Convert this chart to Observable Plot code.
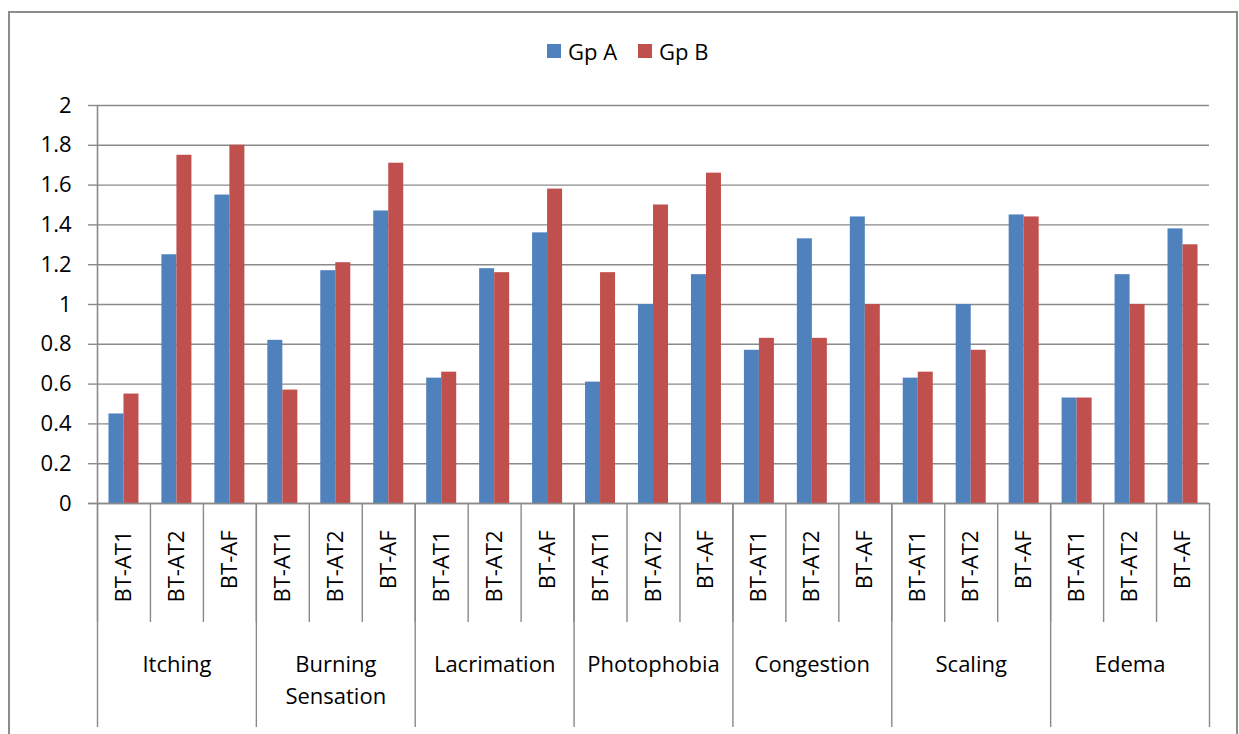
<!DOCTYPE html>
<html>
<head>
<meta charset="utf-8">
<script src="https://cdn.jsdelivr.net/npm/d3@7"></script>
<script src="https://cdn.jsdelivr.net/npm/@observablehq/plot@0.6"></script>
<style>
  body { margin: 0; background: #fff; font-family: "Open Sans", sans-serif; }
  #wrap { position: relative; width: 1239px; height: 734px; overflow: hidden; background: #fff; }
  #border { position: absolute; left: 8px; top: 11px; width: 1230px; height: 780px; border: 2px solid #8c8c8c; box-sizing: border-box; }
  #legend { position: absolute; top: 37px; left: 547px; display: flex; align-items: center; font-size: 22px; color: #000; line-height: 28px; }
  #legend .sw { width: 14px; height: 14px; display: inline-block; margin-right: 7px; }
  #legend .item { display: flex; align-items: center; margin-right: 21px; }
  #chart { position: absolute; left: 0; top: 0; }
</style>
</head>
<body>
<div id="wrap">
  <div id="border"></div>
  <div id="chart"></div>
  <div id="legend"></div>
</div>
<script>
// ---- data ----
const groups = ["Itching", "Burning\nSensation", "Lacrimation", "Photophobia", "Congestion", "Scaling", "Edema"];
const subs = ["BT-AT1", "BT-AT2", "BT-AF"];
const seriesNames = ["Gp A", "Gp B"];
const seriesColors = ["#4F81BD", "#C0504D"];
const gpA = [0.45, 1.25, 1.55,  0.82, 1.17, 1.47,  0.63, 1.18, 1.36,  0.61, 1.00, 1.15,  0.77, 1.33, 1.44,  0.63, 1.00, 1.45,  0.53, 1.15, 1.38];
const gpB = [0.55, 1.75, 1.80,  0.57, 1.21, 1.71,  0.66, 1.16, 1.58,  1.16, 1.50, 1.66,  0.83, 0.83, 1.00,  0.66, 0.77, 1.44,  0.53, 1.00, 1.30];
const yTicks = [0, 0.2, 0.4, 0.6, 0.8, 1, 1.2, 1.4, 1.6, 1.8, 2];

// ---- derived table ----
const rows = [];
groups.forEach((g, gi) => subs.forEach((s, si) => {
  const i = gi * subs.length + si;
  rows.push({key: g + "|" + s, group: g, sub: s, si, a: gpA[i], b: gpB[i]});
}));
const keys = rows.map(d => d.key);
const groupRows = groups.map(g => ({name: g, key: g + "|" + subs[1]}));
const groupStarts = rows.filter(d => d.si === 0).map(d => d.key);
const lastKey = keys[keys.length - 1];

// ---- layout ----
const W = 1239, H = 734;
const mL = 97, mR = 30, mT = 105, baseY = 503, mB = H - baseY;
const bw = (W - mL - mR) / keys.length;
const barW = 15;
const grid = "#8a8a8a";
const font = "'Open Sans', sans-serif";

const plot = Plot.plot({
  width: W, height: H,
  marginLeft: mL, marginRight: mR, marginTop: mT, marginBottom: mB,
  style: {fontFamily: font, fontSize: "22px", color: "#000", background: "transparent", overflow: "visible"},
  x: {domain: keys, padding: 0, round: false, axis: null},
  y: {domain: [0, 2], axis: null},
  marks: [
    Plot.gridY(yTicks, {stroke: grid, strokeOpacity: 1, strokeWidth: 1.4}),
    Plot.axisY({ticks: yTicks, tickSize: 9, tickPadding: 17, stroke: grid, strokeWidth: 1.4, fill: "#000",
      tickFormat: d => String(+d.toFixed(1)), fontSize: 22}),
    Plot.barY(rows, {x: "key", y: "a", fill: seriesColors[0], insetLeft: bw / 2 - barW, insetRight: bw / 2}),
    Plot.barY(rows, {x: "key", y: "b", fill: seriesColors[1], insetLeft: bw / 2, insetRight: bw / 2 - barW}),
    // axis lines
    Plot.ruleX([keys[0]], {dx: -bw / 2, stroke: grid, strokeWidth: 1.6}),
    Plot.ruleY([0], {stroke: grid, strokeWidth: 1.6, insetLeft: -9}),
    // category separators (short)
    Plot.ruleX(keys, {dx: -bw / 2, stroke: grid, strokeWidth: 1.4, insetTop: baseY - mT, insetBottom: -(622 - baseY)}),
    // group separators (long)
    Plot.ruleX(groupStarts, {dx: -bw / 2, stroke: grid, strokeWidth: 1.4, insetTop: baseY - mT, insetBottom: -(727 - baseY)}),
    Plot.ruleX([lastKey], {dx: bw / 2, stroke: grid, strokeWidth: 1.4, insetTop: baseY - mT, insetBottom: -(727 - baseY)}),
    // sub-category labels (rotated)
    Plot.text(rows, {x: "key", text: "sub", frameAnchor: "bottom", dy: 27, rotate: -90,
      textAnchor: "end", lineAnchor: "middle", fontSize: 22, fill: "#000"}),
    // group labels
    Plot.text(groupRows, {x: "key", text: "name", frameAnchor: "bottom", dy: 146, lineAnchor: "top",
      lineHeight: 1.45, fontSize: 22, fill: "#000"})
  ]
});
document.getElementById("chart").appendChild(plot);

// legend
const leg = document.getElementById("legend");
seriesNames.forEach((n, i) => {
  const it = document.createElement("span");
  it.className = "item";
  const sw = document.createElement("span");
  sw.className = "sw";
  sw.style.background = seriesColors[i];
  it.appendChild(sw);
  it.appendChild(document.createTextNode(n));
  leg.appendChild(it);
});
</script>
</body>
</html>
